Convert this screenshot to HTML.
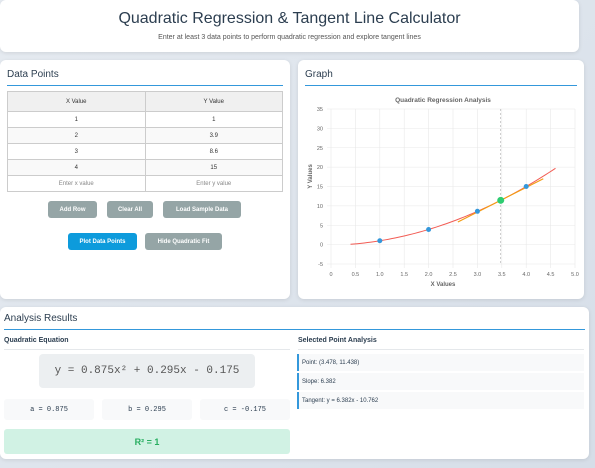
<!DOCTYPE html>
<html><head><meta charset="utf-8">
<style>
*{box-sizing:border-box;margin:0;padding:0}
body{width:595px;height:468px;overflow:hidden;background:linear-gradient(135deg,#e6ebf1,#d6dee8);font-family:"Liberation Sans",sans-serif;color:#2c3e50;position:relative}
.card{position:absolute;background:#fff;border-radius:6px;box-shadow:0 1px 4px rgba(0,0,0,.1)}
.abs{position:absolute}
h2{position:absolute;font-weight:normal;font-size:10px;color:#2c3e50}
.line{position:absolute;height:1px;background:#3498db}
table{position:absolute;border-collapse:collapse;font-size:6px;color:#333}
td,th{border:1px solid #ccc;text-align:center;font-weight:normal;height:16px}
th{background:#f0f0f0;height:20px}
.btn{position:absolute;background:#95a5a6;color:#fff;font-size:6px;font-weight:bold;border-radius:3px;display:flex;align-items:center;justify-content:center}
.mono{font-family:"Liberation Mono",monospace}
.coef{position:absolute;top:399px;height:21px;width:90px;background:#f8f9fa;border-radius:3px;font-size:7px;display:flex;align-items:center;justify-content:center}
.item{position:absolute;left:297px;width:287px;height:17px;background:#f8f9fa;border-left:2px solid #3498db;font-size:6px;padding-left:3px;display:flex;align-items:center}
</style></head><body>
<div class="card" style="left:0;top:0;width:579px;height:52px">
<div class="abs" style="left:0;width:579px;top:10px;text-align:center;font-size:16px;color:#2c3e50">Quadratic Regression &amp; Tangent Line Calculator</div>
<div class="abs" style="left:0;width:579px;top:34px;text-align:center;font-size:7px;color:#555">Enter at least 3 data points to perform quadratic regression and explore tangent lines</div>
</div>

<div class="card" style="left:0;top:60px;width:290px;height:239px"></div>
<h2 style="left:7px;top:69px">Data Points</h2>
<div class="line" style="left:7px;top:85px;width:276px"></div>
<table style="left:7px;top:91px;width:276px">
<tr><th>X Value</th><th>Y Value</th></tr>
<tr><td>1</td><td>1</td></tr>
<tr style="background:#f9f9f9"><td>2</td><td>3.9</td></tr>
<tr><td>3</td><td>8.6</td></tr>
<tr style="background:#f9f9f9"><td>4</td><td>15</td></tr>
<tr><td style="color:#888">Enter x value</td><td style="color:#888">Enter y value</td></tr>
</table>
<div class="btn" style="left:48px;top:201px;width:49px;height:17px">Add Row</div>
<div class="btn" style="left:107px;top:201px;width:46px;height:17px">Clear All</div>
<div class="btn" style="left:163px;top:201px;width:78px;height:17px">Load Sample Data</div>
<div class="btn" style="left:68px;top:233px;width:69px;height:17px;background:#0d9bdc">Plot Data Points</div>
<div class="btn" style="left:145px;top:233px;width:77px;height:17px">Hide Quadratic Fit</div>

<div class="card" style="left:298px;top:60px;width:286px;height:239px"></div>
<h2 style="left:305px;top:69px">Graph</h2>
<div class="line" style="left:305px;top:85px;width:272px"></div>
<svg id="chart" class="abs" style="left:0;top:0" width="595" height="300"></svg>

<div class="card" style="left:0;top:307px;width:589px;height:152px"></div>
<h2 style="left:4px;top:313px">Analysis Results</h2>
<div class="line" style="left:4px;top:329px;width:581px"></div>
<div class="abs" style="left:4px;top:337px;font-size:7px;font-weight:bold">Quadratic Equation</div>
<div class="abs" style="left:4px;top:349px;width:286px;height:1px;background:#e5e8eb"></div>
<div class="abs mono" style="left:39px;top:354px;width:216px;height:34px;background:#eceff1;border-radius:4px;font-size:11px;color:#555;display:flex;align-items:center;justify-content:center">y = 0.875x² + 0.295x - 0.175</div>
<div class="coef mono" style="left:4px">a = 0.875</div>
<div class="coef mono" style="left:102px">b = 0.295</div>
<div class="coef mono" style="left:200px">c = -0.175</div>
<div class="abs" style="left:4px;top:429px;width:286px;height:25px;background:#d1f2e4;border-radius:3px;color:#27ae60;font-weight:bold;font-size:9px;display:flex;align-items:center;justify-content:center">R² = 1</div>
<div class="abs" style="left:298px;top:337px;font-size:7px;font-weight:bold">Selected Point Analysis</div>
<div class="abs" style="left:298px;top:349px;width:286px;height:1px;background:#e5e8eb"></div>
<div class="item" style="top:354px">Point: (3.478, 11.438)</div>
<div class="item" style="top:373px">Slope: 6.382</div>
<div class="item" style="top:392px">Tangent: y = 6.382x - 10.762</div>

<script>
const xs=[1,2,3,4];
const ys=[1,3.9,8.6,15];
const coefs=[0.875,0.295,-0.175];
const selX=[3.478];
const xTicks=[0,0.5,1.0,1.5,2.0,2.5,3.0,3.5,4.0,4.5,5.0];
const yTicks=[-5,0,5,10,15,20,25,30,35];
const fitRange=[0.4,4.6];
const tanRange=[2.6,4.35];
const svg=document.getElementById('chart');
const NS='http://www.w3.org/2000/svg';
const L=331,R=575,T=109,B=264;
const sx=v=>L+(v-0)/(5-0)*(R-L);
const sy=v=>B-(v+5)/(40)*(B-T);
function mk(t,a){const e=document.createElementNS(NS,t);for(const k in a)e.setAttribute(k,a[k]);svg.appendChild(e);return e;}
const f=x=>coefs[0]*x*x+coefs[1]*x+coefs[2];
xTicks.forEach(t=>{const g=mk('line',{x1:sx(t),x2:sx(t),y1:T,y2:B+4,stroke:'#e8e8e8','stroke-width':0.6});

const l=mk('text',{x:sx(t),y:276,'font-size':5.5,'text-anchor':'middle',fill:'#666','font-family':'Liberation Sans'});l.textContent=t===0?'0':t.toFixed(1);
});
yTicks.forEach(t=>{const g=mk('line',{x1:L-4,x2:R,y1:sy(t),y2:sy(t),stroke:'#e8e8e8','stroke-width':0.6});

const l=mk('text',{x:L-8,y:sy(t)+2,'font-size':5.5,'text-anchor':'end',fill:'#666','font-family':'Liberation Sans'});l.textContent=t;
});
let tt=mk('text',{x:(L+R)/2-10,y:102,'font-size':6.5,'font-weight':'bold','text-anchor':'middle',fill:'#666','font-family':'Liberation Sans'});tt.textContent='Quadratic Regression Analysis';

let xl=mk('text',{x:(L+R)/2-10,y:286,'font-size':6,'font-weight':'bold','text-anchor':'middle',fill:'#666','font-family':'Liberation Sans'});xl.textContent='X Values';

let yl=mk('text',{x:312,y:(T+B)/2-10,'font-size':6,'font-weight':'bold','text-anchor':'middle',fill:'#666','font-family':'Liberation Sans',transform:`rotate(-90 312 ${(T+B)/2-10})`});yl.textContent='Y Values';

const sv=selX[0],sl=2*coefs[0]*sv+coefs[1],sYv=f(sv);
let vl=mk('line',{x1:sx(sv),x2:sx(sv),y1:T,y2:B,stroke:'#aaa','stroke-width':0.6,'stroke-dasharray':'2,2'});

let pts=[];for(let i=0;i<=60;i++){const x=fitRange[0]+(fitRange[1]-fitRange[0])*i/60;pts.push(sx(x)+','+sy(f(x)));}
let fl=mk('polyline',{points:pts.join(' '),fill:'none',stroke:'#f25c54','stroke-width':1});

let tl=mk('line',{x1:sx(tanRange[0]),y1:sy(sYv+sl*(tanRange[0]-sv)),x2:sx(tanRange[1]),y2:sy(sYv+sl*(tanRange[1]-sv)),stroke:'#f39c12','stroke-width':1.2});

xs.forEach((x,i)=>{const c=mk('circle',{cx:sx(x),cy:sy(ys[i]),r:2.5,fill:'#3498db'});
});
let sp=mk('circle',{cx:sx(sv),cy:sy(sYv),r:3.5,fill:'#2ecc71'});

</script>
</body></html>
